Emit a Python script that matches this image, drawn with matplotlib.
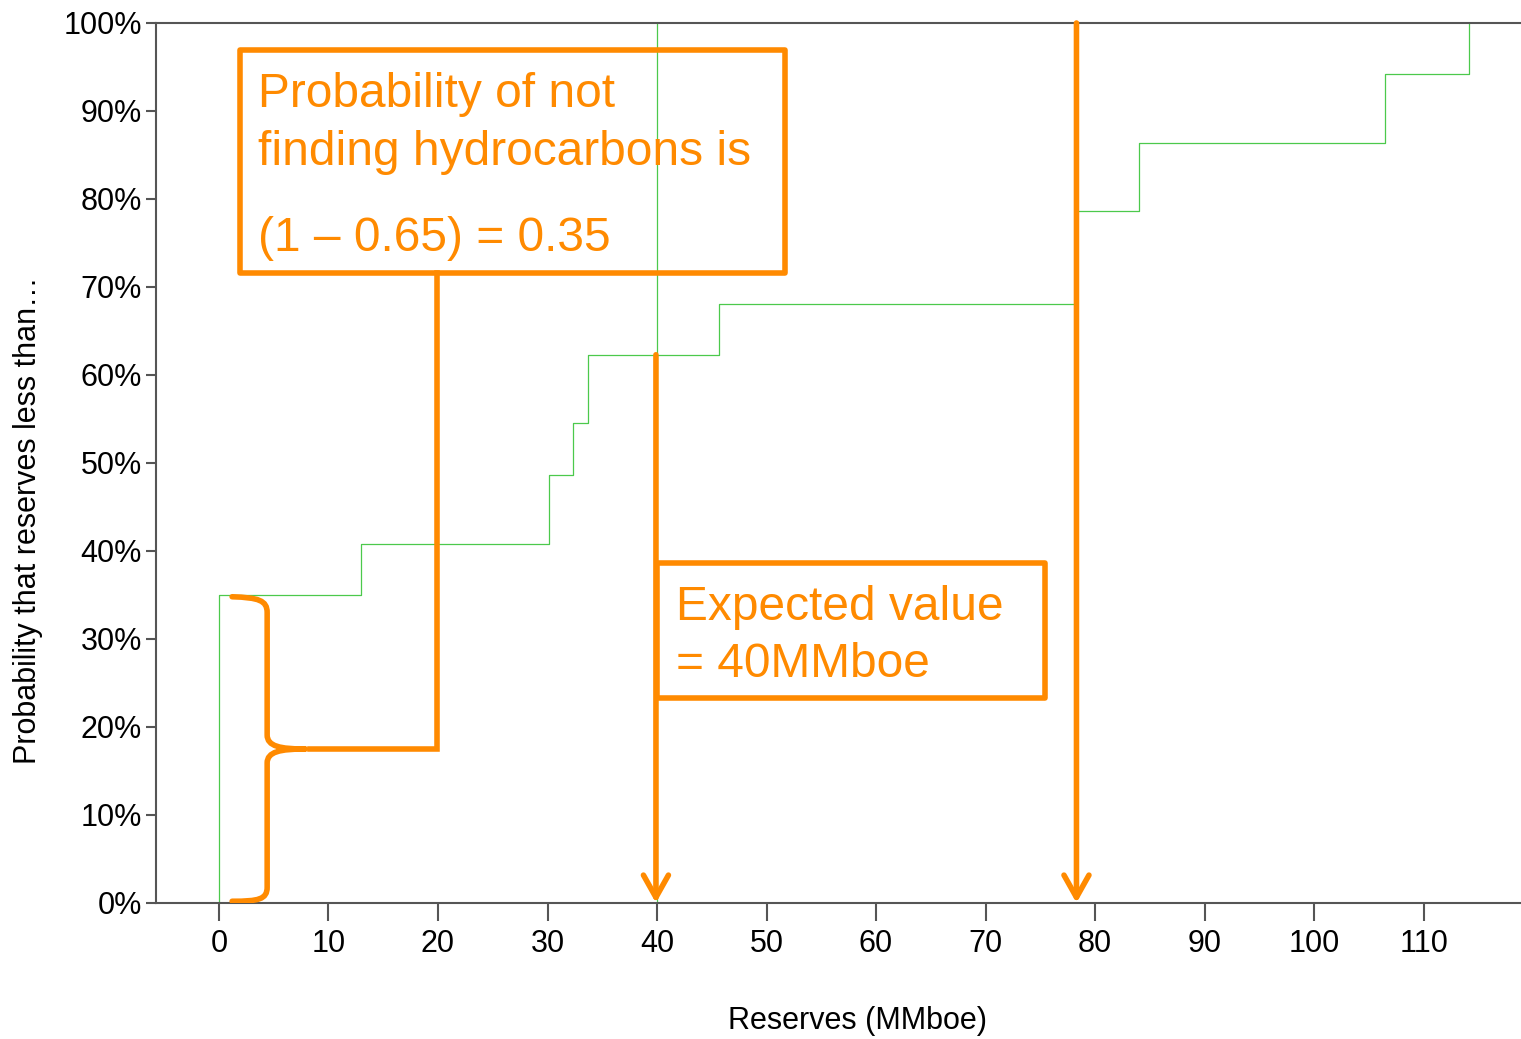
import numpy as np
import matplotlib
matplotlib.use('Agg')
import matplotlib.pyplot as plt
from matplotlib.path import Path
from matplotlib.patches import PathPatch, Rectangle
from matplotlib.ticker import PercentFormatter

plt.rcParams['font.family'] = ['Liberation Sans', 'DejaVu Sans']

# cumulative probability steps (reserves in MMboe, probability)
step_x = [0, 0, 13.0, 30.1, 32.3, 33.7, 45.7, 78.3, 84.0, 106.5, 114.1]
step_p = [0, 0.350, 0.408, 0.486, 0.545, 0.623, 0.681, 0.786, 0.864, 0.942, 1.0]
expected_value = 40
p_dry = 0.35
arrow2_x = 78.3

x_ticks = list(range(0, 120, 10))
y_ticks = [i / 10 for i in range(11)]

orange = '#FF8A00'
green = '#4CC94C'
axcol = '#555555'

fig = plt.figure(figsize=(15.21, 10.39), dpi=100)
ax = fig.add_axes([156 / 1521, 136 / 1039, 1364 / 1521, 880 / 1039])

ax.step(step_x, step_p, where='post', color=green, lw=0.9, zorder=2)
ax.vlines(expected_value, 0, 1, color=green, lw=0.9, zorder=2)

ax.set_xlim(-5.75, 118.8)
ax.set_ylim(0, 1)
ax.set_xticks(x_ticks)
ax.set_yticks(y_ticks)
ax.yaxis.set_major_formatter(PercentFormatter(1.0, decimals=0))
ax.tick_params(axis='x', length=13, width=1.5, color=axcol, labelsize=22, pad=6)
ax.tick_params(axis='y', length=7, width=1.5, color=axcol, labelsize=22, pad=3)
for s in ['left', 'bottom', 'top']:
    ax.spines[s].set_color(axcol)
    ax.spines[s].set_linewidth(1.5)
ax.spines['right'].set_visible(False)

ax.set_xlabel('Reserves (MMboe)', fontsize=22, va='center')
ax.xaxis.set_label_coords(701 / 1364, -118 / 880)
ax.set_ylabel('Probability that reserves less than\u2026', fontsize=22, va='center')
ax.yaxis.set_label_coords(-128 / 1364, 0.435)

# text box 1
lw_box = 4.0
ax.add_patch(Rectangle((1.9, 0.716), 49.8, 0.253, fill=False, ec=orange, lw=lw_box,
                       joinstyle='round', zorder=5, clip_on=False))
tkw = dict(color=orange, fontsize=34.5, va='baseline', ha='left', zorder=6)
ax.text(3.6, 0.9045, 'Probability of not', **tkw)
ax.text(3.6, 0.839, 'finding hydrocarbons is', **tkw)
ax.text(3.6, 0.741, '(1 \u2013 0.65) = 0.35', **tkw)

# text box 2
ax.add_patch(Rectangle((expected_value, 0.233), 35.4, 0.153, fill=False, ec=orange, lw=lw_box,
                       joinstyle='round', zorder=5))
ax.text(41.7, 0.322, 'Expected value', **tkw)
ax.text(41.7, 0.257, '= 40MMboe', **tkw)

# brace around the dry-hole probability
bx0, bx1, bx2 = 1.2, 4.4, 7.9
tip = 0.175
verts = [(bx0, p_dry - 0.002), (3.6, p_dry - 0.003), (bx1, p_dry - 0.006), (bx1, p_dry - 0.02),
         (bx1, tip + 0.016),
         (bx1, tip + 0.003), (bx1 + 1.2, tip), (bx2, tip),
         (bx1 + 1.2, tip), (bx1, tip - 0.003), (bx1, tip - 0.016),
         (bx1, 0.018),
         (bx1, 0.004), (3.6, 0.002), (bx0, 0.002)]
codes = [Path.MOVETO, Path.CURVE4, Path.CURVE4, Path.CURVE4,
         Path.LINETO,
         Path.CURVE4, Path.CURVE4, Path.CURVE4,
         Path.CURVE4, Path.CURVE4, Path.CURVE4,
         Path.LINETO,
         Path.CURVE4, Path.CURVE4, Path.CURVE4]
ax.add_patch(PathPatch(Path(verts, codes), fill=False, ec=orange, lw=lw_box,
                       capstyle='round', joinstyle='round', zorder=5))

# connector from brace to box 1
ax.plot([8.3, 19.9, 19.9], [tip, tip, 0.716], color=orange, lw=lw_box,
        solid_joinstyle='miter', zorder=5)

# arrows
akw = dict(arrowstyle='->,head_length=0.8,head_width=0.45', color=orange, lw=lw_box,
           shrinkA=0, shrinkB=0, mutation_scale=20, capstyle='round', joinstyle='round')
ax.annotate('', xy=(expected_value - 0.1, 0), xytext=(expected_value - 0.1, step_p[5]),
            arrowprops=akw, zorder=5)
ax.annotate('', xy=(arrow2_x, 0), xytext=(arrow2_x, 1.0), arrowprops=akw, zorder=5)

fig.savefig('out.png', dpi=100)
